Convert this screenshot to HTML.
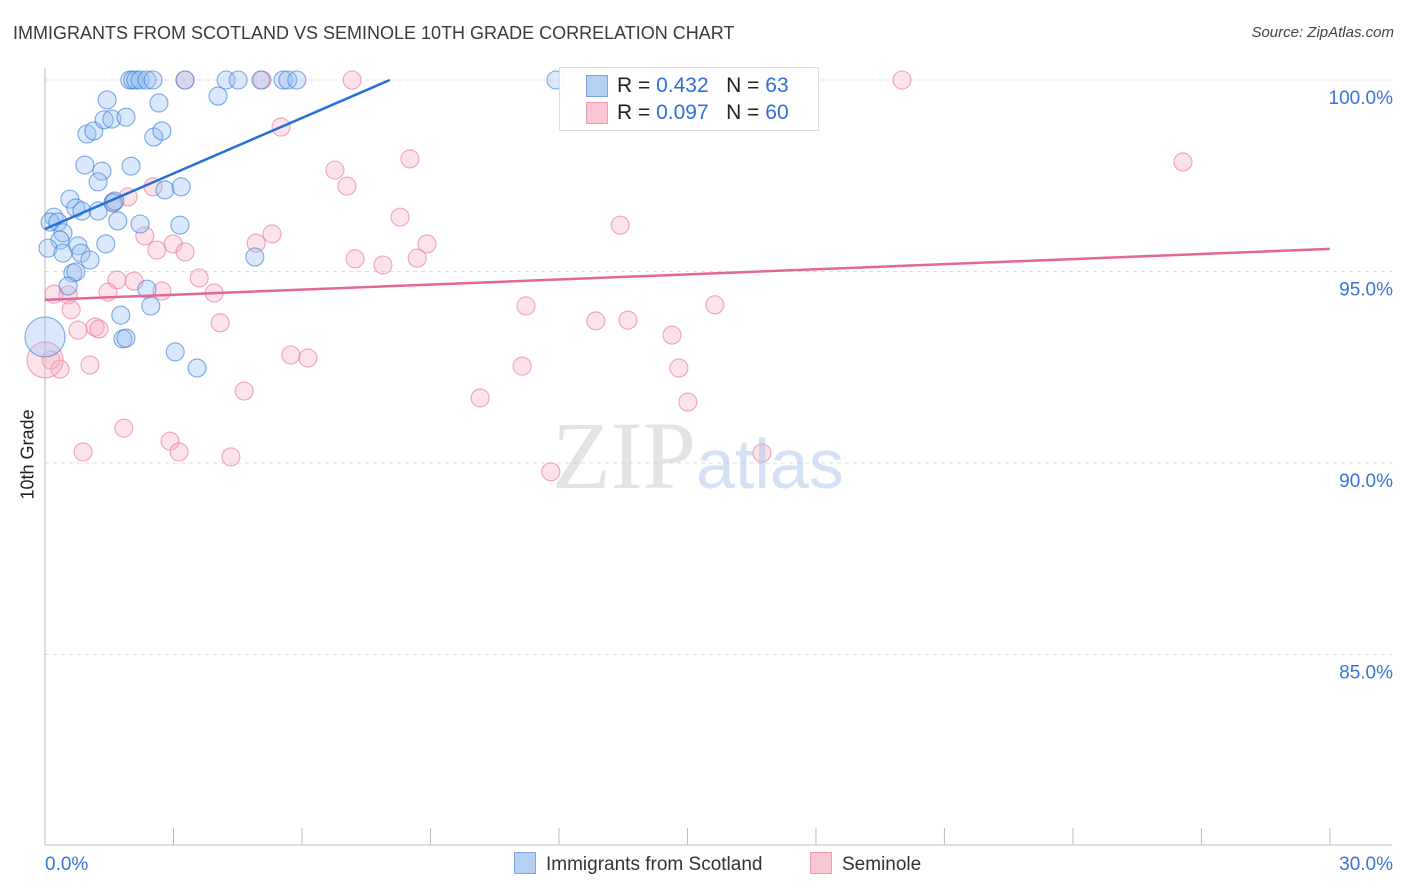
<!DOCTYPE html>
<html><head><meta charset="utf-8"><style>
body{margin:0;background:#fff;font-family:"Liberation Sans",sans-serif}
#w{position:relative;width:1406px;height:892px;overflow:hidden}
.t{position:absolute;white-space:nowrap}
</style></head><body><div id="w">
<div class="t" style="left:13px;top:23px;font-size:18px;color:#3a3a3a">IMMIGRANTS FROM SCOTLAND VS SEMINOLE 10TH GRADE CORRELATION CHART</div>
<div class="t" style="right:12px;top:24px;font-size:15px;font-style:italic;color:#444">Source: ZipAtlas.com</div>
<div class="t" style="left:-17px;top:444px;font-size:18px;color:#222;transform:rotate(-90deg)">10th Grade</div>
<svg id="s" width="1406" height="892" style="position:absolute;left:0;top:0"></svg>
<div class="t" style="left:559px;top:67px;width:258px;height:62px;border:1px solid #ddd;background:rgba(255,255,255,0.9)"></div>
<div class="t" style="left:586px;top:75px;width:20px;height:20px;background:#b6d0f4;border:1px solid #7aa6e6"></div>
<div class="t" style="left:586px;top:102px;width:20px;height:20px;background:#f9c6d4;border:1px solid #ec9ab2"></div>
<div class="t" style="left:617px;top:74px;font-size:21px;color:#222">R = <span style="color:#2e6fd8">0.432</span>&nbsp;&nbsp;&nbsp;N = <span style="color:#2e6fd8">63</span></div>
<div class="t" style="left:617px;top:101px;font-size:21px;color:#222">R = <span style="color:#2e6fd8">0.097</span>&nbsp;&nbsp;&nbsp;N = <span style="color:#2e6fd8">60</span></div>
<div class="t" style="left:552px;top:400px;font-size:96px;font-family:'Liberation Serif',serif;color:rgba(200,200,200,0.5)">ZIP<span style="font-family:'Liberation Sans',sans-serif;font-size:70px;color:rgba(170,195,235,0.5)">atlas</span></div>
<div class="t" style="left:514px;top:852px;font-size:19px;color:#333"><span style="display:inline-block;width:20px;height:20px;background:#b6d0f4;border:1px solid #7aa6e6;vertical-align:-4px;margin-right:10px"></span>Immigrants from Scotland</div>
<div class="t" style="left:810px;top:852px;font-size:19px;color:#333"><span style="display:inline-block;width:20px;height:20px;background:#f9c6d4;border:1px solid #ec9ab2;vertical-align:-4px;margin-right:10px"></span>Seminole</div>
</div>
<script>
const yTicks=[100,95,90,85];
const xTickLabels=["0.0%","30.0%"];
const blueX=[1.98,2.05,2.12,2.22,2.38,2.52,3.27,4.23,4.51,5.56,5.67,5.88,5.04,11.93,1.45,2.66,4.04,0.98,1.14,1.38,1.56,1.89,2.54,2.73,0.93,1.33,2.01,1.24,2.80,3.18,0.58,0.72,0.86,1.24,1.59,1.63,0.21,0.12,0.30,0.42,0.35,0.07,0.42,0.77,0.84,1.05,1.42,1.70,2.22,3.15,0.65,0.72,0.54,4.90,2.38,2.47,1.77,1.82,1.89,3.04,3.55,0.0];
const blueY=[100,100,100,100,100,100,100,100,100,100,100,100,100,100,99.48,99.40,99.58,98.59,98.67,98.96,98.98,99.03,98.51,98.67,97.78,97.62,97.75,97.34,97.13,97.21,96.89,96.66,96.58,96.58,96.79,96.84,96.42,96.29,96.29,96.01,95.82,95.61,95.48,95.67,95.48,95.30,95.72,96.32,96.24,96.21,94.96,94.99,94.62,95.38,94.54,94.10,93.86,93.24,93.26,92.90,92.48,93.29];
const blueR=[9,9,9,9,9,9,9,9,9,9,9,9,9,9,9,9,9,9,9,9,9,9,9,9,9,9,9,9,9,9,9,9,9,9,9,9,9,9,9,9,9,9,9,9,9,9,9,9,9,9,9,9,9,9,9,9,9,9,9,9,9,20];
const pinkX=[3.27,5.07,7.17,20.01,5.51,8.52,6.77,7.05,26.57,2.52,1.94,1.59,8.29,13.43,5.30,2.33,4.93,2.99,2.61,3.27,8.92,7.24,7.89,8.69,1.68,2.08,3.60,1.47,2.73,3.95,0.21,0.54,0.61,11.23,15.64,12.86,13.61,1.17,1.26,0.77,4.09,14.64,0.14,0.35,1.05,5.74,6.14,4.65,11.14,14.80,10.16,15.01,1.84,2.92,3.13,0.89,4.34,11.81,16.74,0.0];
const pinkY=[100,100,100,100,98.77,97.94,97.65,97.23,97.86,97.21,96.95,96.81,96.42,96.21,95.98,95.93,95.74,95.72,95.56,95.51,95.72,95.33,95.17,95.35,94.78,94.75,94.83,94.46,94.49,94.44,94.41,94.39,94.00,94.10,94.13,93.71,93.73,93.55,93.50,93.47,93.66,93.34,92.69,92.45,92.56,92.82,92.74,91.88,92.53,92.48,91.70,91.59,90.91,90.57,90.29,90.29,90.16,89.77,90.26,92.69];
const pinkR=[9,9,9,9,9,9,9,9,9,9,9,9,9,9,9,9,9,9,9,9,9,9,9,9,9,9,9,9,9,9,9,9,9,9,9,9,9,9,9,9,9,9,9,9,9,9,9,9,9,9,9,9,9,9,9,9,9,9,9,18];
const blueTrend=[[0,96.11],[8.05,100]];
const pinkTrend=[[0,94.26],[30,95.59]];
const X=v=>45+v*42.83, Y=v=>80+(100-v)*38.3;
const s=document.getElementById('s'),NS='http://www.w3.org/2000/svg';
function mk(t,a){const e=document.createElementNS(NS,t);for(const k in a)e.setAttribute(k,a[k]);s.appendChild(e);return e;}
yTicks.forEach(v=>{
 const g=mk('line',{x1:45,x2:1392,y1:Y(v),y2:Y(v),stroke:'#ddd','stroke-dasharray':'4,4'});
 
 
 const t=mk('text',{x:1393,y:Y(v)+24,'text-anchor':'end','font-size':19,fill:'#3a74d6','font-family':'Liberation Sans'});
 t.textContent=v.toFixed(1)+'%';
 
 
});
const ax=mk('line',{x1:45,x2:45,y1:68,y2:845,stroke:'#bbb'});


const bx=mk('line',{x1:45,x2:1392,y1:845,y2:845,stroke:'#bbb'});


for(let i=0;i<=10;i++){const l=mk('line',{x1:X(i*3),x2:X(i*3),y1:828,y2:845,stroke:'#bbb'});
 
 }
[[0,'start',45],[30,'end',1393]].forEach((d,i)=>{const t=mk('text',{x:d[2],y:870,'text-anchor':d[1],'font-size':19,fill:'#3a74d6','font-family':'Liberation Sans'});t.textContent=xTickLabels[i];
 
 });
function pts(xs,ys,rs,f,st,name){xs.forEach((x,i)=>{const c=mk('circle',{cx:X(x),cy:Y(ys[i]),r:rs[i],fill:f,stroke:st,'stroke-width':1.1});
 
 });}
pts(pinkX,pinkY,pinkR,'rgba(246,170,195,0.33)','rgba(230,120,155,0.65)','seminole-point');
pts(blueX,blueY,blueR,'rgba(150,190,240,0.36)','rgba(60,125,215,0.65)','scotland-point');
const bl=mk('line',{x1:X(blueTrend[0][0]),y1:Y(blueTrend[0][1]),x2:X(blueTrend[1][0]),y2:Y(blueTrend[1][1]),stroke:'#2470d6','stroke-width':2.5});


const pl=mk('line',{x1:X(pinkTrend[0][0]),y1:Y(pinkTrend[0][1]),x2:X(pinkTrend[1][0]),y2:Y(pinkTrend[1][1]),stroke:'#e5679a','stroke-width':2.5});


</script></body></html>
